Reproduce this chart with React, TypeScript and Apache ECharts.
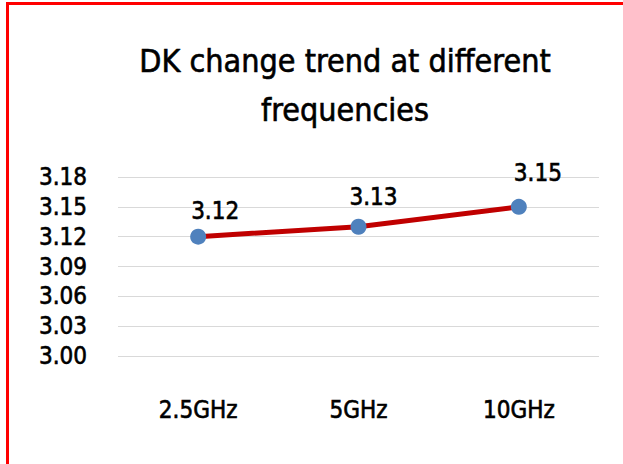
import React, { useEffect, useRef } from "react";
import * as echarts from "echarts";

const titleText = "DK change trend at different\nfrequencies";
const categories = ["2.5GHz", "5GHz", "10GHz"];
const dkValues = [3.12, 3.13, 3.15];
const yMin = 3.0;
const yMax = 3.18;
const yStep = 0.03;

const FONT = "'DejaVu Sans Condensed', 'DejaVu Sans', sans-serif";
const labelOffsets = [
  [17, 0],
  [15, -4],
  [19, -8],
];
const heavy = { textBorderColor: "#000000", textBorderWidth: 0.6 };

export default function App() {
  const ref = useRef<HTMLDivElement>(null);
  useEffect(() => {
    if (!ref.current) return;
    const chart = echarts.init(ref.current, undefined, { renderer: "svg" });
    chart.setOption({
      animation: false,
      backgroundColor: "#ffffff",
      title: {
        text: titleText,
        left: 345,
        top: 36,
        textAlign: "center",
        padding: 0,
        textStyle: {
          fontFamily: FONT,
          fontSize: 32,
          fontWeight: "normal",
          color: "#000000",
          lineHeight: 49,
          ...heavy,
        },
      },
      graphic: [
        {
          type: "rect",
          shape: { x: 7.5, y: 3.5, width: 800, height: 600 },
          style: { fill: "none", stroke: "#ff0000", lineWidth: 3 },
          silent: true,
          z: 100,
        },
      ],
      grid: { left: 118, right: 24, top: 177, bottom: 108 },
      xAxis: {
        type: "category",
        data: categories,
        boundaryGap: true,
        axisLine: { show: false },
        axisTick: { show: false },
        axisLabel: {
          margin: 42,
          fontFamily: FONT,
          fontSize: 24,
          color: "#000000",
          ...heavy,
        },
      },
      yAxis: {
        type: "value",
        min: yMin,
        max: yMax,
        interval: yStep,
        axisLine: { show: false },
        axisTick: { show: false },
        splitLine: { lineStyle: { color: "#d9d9d9", width: 1 } },
        axisLabel: {
          margin: 31,
          fontFamily: FONT,
          fontSize: 24,
          color: "#000000",
          ...heavy,
          formatter: (v: number) => v.toFixed(2),
        },
      },
      series: [
        {
          type: "line",
          data: dkValues.map((v, i) => ({
            value: v,
            label: { offset: labelOffsets[i] },
          })),
          symbol: "circle",
          symbolSize: 16,
          lineStyle: { color: "#c00000", width: 5 },
          itemStyle: { color: "#4f81bd" },
          label: {
            show: true,
            position: "top",
            distance: 6,
            fontFamily: FONT,
            fontSize: 24,
            lineHeight: 24,
            color: "#000000",
            ...heavy,
            formatter: (p: any) => Number(p.value).toFixed(2),
          },
        },
      ],
    });
    return () => chart.dispose();
  }, []);
  return (
    <div
      ref={ref}
      style={{ position: "absolute", left: 0, top: 0, width: 623, height: 464 }}
    />
  );
}
